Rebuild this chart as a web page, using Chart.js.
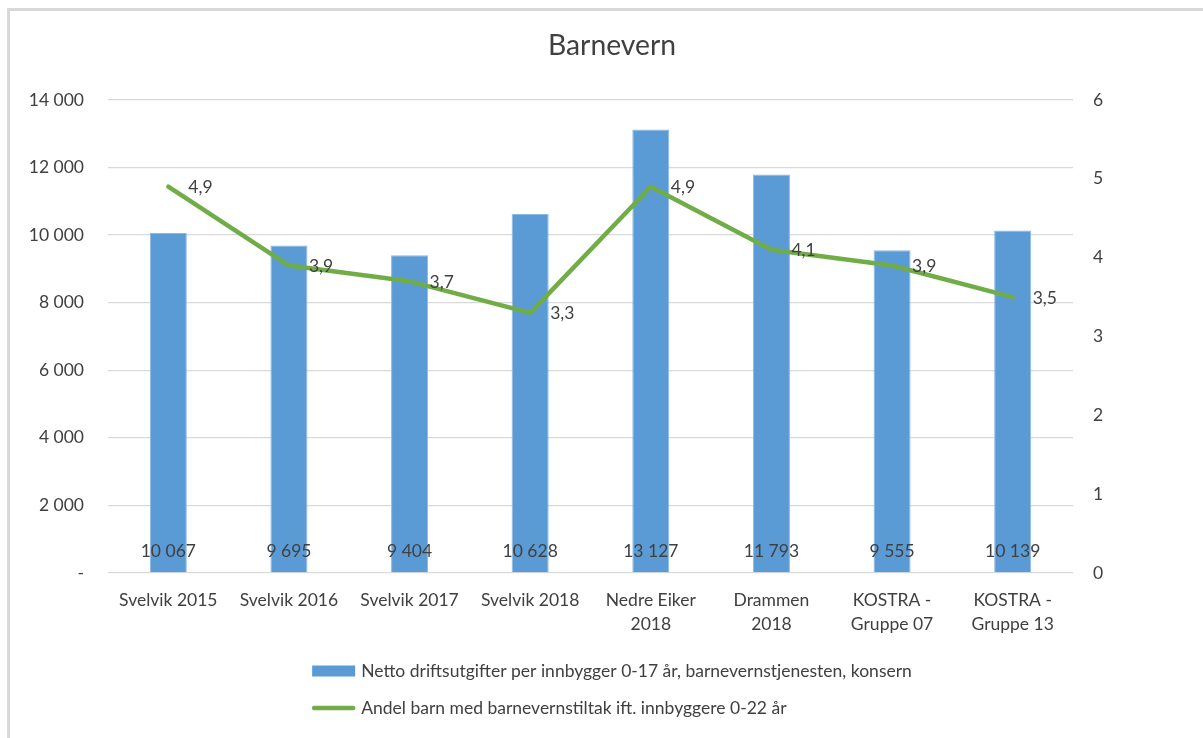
<!DOCTYPE html>
<html><head><meta charset="utf-8">
<script src="https://cdn.jsdelivr.net/npm/chart.js@4"></script>
<style>
html,body{margin:0;padding:0;background:#fff;}
#wrap{position:relative;width:1203px;height:738px;overflow:hidden;}
#frame{position:absolute;left:7px;top:8px;width:1200px;height:740px;border-top:3px solid #d9d9d9;border-left:3px solid #d9d9d9;}
canvas{position:absolute;left:0;top:0;}
</style></head><body>
<div id="wrap"><div id="frame"></div><canvas id="c" width="1203" height="738"></canvas></div>
<script>
const categories = [["Svelvik 2015"],["Svelvik 2016"],["Svelvik 2017"],["Svelvik 2018"],["Nedre Eiker","2018"],["Drammen","2018"],["KOSTRA -","Gruppe 07"],["KOSTRA -","Gruppe 13"]];
const barValues = [10067, 9695, 9404, 10628, 13127, 11793, 9555, 10139];
const lineValues = [4.9, 3.9, 3.7, 3.3, 4.9, 4.1, 3.9, 3.5];
const leftTicks = [0, 2000, 4000, 6000, 8000, 10000, 12000, 14000];
const rightTicks = [0, 1, 2, 3, 4, 5, 6];
const barSeriesName = "Netto driftsutgifter per innbygger 0-17 år, barnevernstjenesten, konsern";
const lineSeriesName = "Andel barn med barnevernstiltak ift. innbyggere 0-22 år";
const titleText = "Barnevern";

const TEXT = '#404040';
const FONT = 'Lato';
const FS = 17.5;
const BAR_COLOR = '#5B9BD5';
const LINE_COLOR = '#70AD47';
const CENTER_X = 612;

function fmtThousands(v){
  if (v === 0) return '-';
  return String(Math.round(v)).replace(/\B(?=(\d{3})+(?!\d))/g, ' ');
}
function fmtDec(v){ return v.toFixed(1).replace('.', ','); }

const dataLabels = {
  id: 'dataLabels',
  afterDatasetsDraw(chart){
    const ctx = chart.ctx;
    ctx.save();
    ctx.font = FS + 'px ' + FONT;
    ctx.fillStyle = TEXT;
    ctx.textBaseline = 'middle';
    const barMeta = chart.getDatasetMeta(1);
    const base = chart.scales.y.getPixelForValue(0);
    ctx.textAlign = 'center';
    barMeta.data.forEach((el, i) => {
      ctx.fillText(fmtThousands(barValues[i]), el.x, base - 22);
    });
    const lineMeta = chart.getDatasetMeta(0);
    ctx.textAlign = 'left';
    lineMeta.data.forEach((el, i) => {
      ctx.fillText(fmtDec(lineValues[i]), el.x + 20, el.y + 1);
    });
    ctx.restore();
  }
};

const titleAndLegend = {
  id: 'titleAndLegend',
  afterDraw(chart){
    const ctx = chart.ctx;
    ctx.save();
    // title
    ctx.font = '28.3px ' + FONT;
    ctx.fillStyle = TEXT;
    ctx.textAlign = 'center';
    ctx.textBaseline = 'middle';
    ctx.fillText(titleText, CENTER_X, chart.chartArea.top - 54);
    // legend
    ctx.font = FS + 'px ' + FONT;
    const w1 = ctx.measureText(barSeriesName).width;
    const w2 = ctx.measureText(lineSeriesName).width;
    const sym = 43, gap = 6;
    const blockW = sym + gap + Math.max(w1, w2);
    const left = CENTER_X - blockW / 2;
    const y1 = chart.chartArea.bottom + 98;
    const y2 = y1 + 37;
    ctx.fillStyle = BAR_COLOR;
    ctx.fillRect(left, y1 - 5.5, sym, 11);
    ctx.strokeStyle = LINE_COLOR;
    ctx.lineWidth = 4.5;
    ctx.lineCap = 'round';
    ctx.beginPath();
    ctx.moveTo(left + 2, y2);
    ctx.lineTo(left + sym - 2, y2);
    ctx.stroke();
    ctx.fillStyle = TEXT;
    ctx.textAlign = 'left';
    ctx.fillText(barSeriesName, left + sym + gap, y1);
    ctx.fillText(lineSeriesName, left + sym + gap, y2);
    ctx.restore();
  }
};

new Chart(document.getElementById('c'), {
  data: {
    labels: categories,
    datasets: [
      {
        type: 'line',
        label: lineSeriesName,
        data: lineValues,
        yAxisID: 'y1',
        borderColor: LINE_COLOR,
        backgroundColor: LINE_COLOR,
        borderWidth: 4.5,
        pointRadius: 0,
        tension: 0,
        order: 0,
        borderJoinStyle: 'round',
        borderCapStyle: 'round'
      },
      {
        type: 'bar',
        label: barSeriesName,
        data: barValues,
        yAxisID: 'y',
        backgroundColor: BAR_COLOR,
        borderColor: '#8DB9E4',
        borderWidth: 1,
        barPercentage: 0.307,
        categoryPercentage: 1,
        order: 1
      }
    ]
  },
  options: {
    responsive: false,
    animation: false,
    devicePixelRatio: 1,
    layout: { padding: { left: 0, right: 0, top: 100, bottom: 0 } },
    plugins: {
      legend: { display: false },
      tooltip: { enabled: false },
      title: { display: false }
    },
    scales: {
      x: {
        grid: { display: false, drawTicks: false },
        border: { display: false },
        ticks: {
          color: TEXT,
          font: { family: FONT, size: FS, lineHeight: '24px' },
          padding: 15,
          maxRotation: 0,
          autoSkip: false
        },
        afterFit(s){ s.height = 165; }
      },
      y: {
        position: 'left',
        min: 0, max: 14000,
        afterBuildTicks(s){ s.ticks = leftTicks.map(v => ({ value: v })); },
        ticks: {
          color: TEXT,
          font: { family: FONT, size: FS },
          padding: 24,
          callback: v => fmtThousands(v)
        },
        grid: { color: '#d9d9d9', lineWidth: 1.3, drawTicks: false },
        border: { display: false },
        afterFit(s){ s.width = 108; }
      },
      y1: {
        position: 'right',
        min: 0, max: 6,
        afterBuildTicks(s){ s.ticks = rightTicks.map(v => ({ value: v })); },
        ticks: {
          color: TEXT,
          font: { family: FONT, size: FS },
          padding: 20,
          callback: v => String(v)
        },
        grid: { display: false, drawTicks: false },
        border: { display: false },
        afterFit(s){ s.width = 130; }
      }
    }
  },
  plugins: [dataLabels, titleAndLegend]
});
</script>
</body></html>
